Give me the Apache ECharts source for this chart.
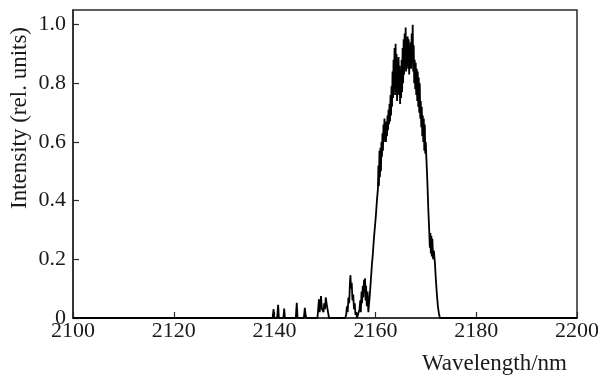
<!DOCTYPE html>
<html>
<head>
<meta charset="utf-8">
<script src="https://cdn.jsdelivr.net/npm/echarts@6/dist/echarts.min.js"></script>
<style>
  html, body { margin: 0; padding: 0; background: #fff; }
  #chart { width: 598px; height: 376px; }
</style>
</head>
<body>
<div id="chart"></div>
<script>
// x ticks (nm)
const xTicks = [2100, 2120, 2140, 2160, 2180, 2200];
const yTicks = [0, 0.2, 0.4, 0.6, 0.8, 1.0];

// spectrum (nm, rel. units)
const wavelength = [
  2100, 2139.6, 2139.7, 2139.8, 2139.9, 2140.5, 2140.7, 2140.85, 2141.75, 2141.9, 2142.05,
  2144.2, 2144.4, 2144.55, 2145.8, 2146.0, 2146.15, 2146.3,
  2148.5, 2148.65, 2148.8, 2148.95, 2149.2, 2149.4, 2149.7, 2149.85, 2150.0, 2150.15, 2150.4, 2150.6, 2150.8,
  2154.0, 2154.2, 2154.35, 2154.5, 2154.65, 2154.8, 2154.95, 2155.05, 2155.15, 2155.3, 2155.45, 2155.6, 2155.75, 2155.9, 2156.05, 2156.2, 2156.35,
  2156.7, 2156.85, 2157.0, 2157.1, 2157.25, 2157.35, 2157.5, 2157.6, 2157.75, 2157.85, 2157.95, 2158.05, 2158.15, 2158.3, 2158.45, 2158.6, 2158.75,
  2158.9, 2159.1, 2159.3, 2159.5, 2159.7, 2159.9, 2160.1, 2160.3, 2160.5, 2160.6, 2160.7, 2160.8, 2160.9,
  2161.0, 2161.1, 2161.2, 2161.3, 2161.4, 2161.5, 2161.6, 2161.7, 2161.8, 2161.9,
  2162.0, 2162.1, 2162.2, 2162.3, 2162.4, 2162.5, 2162.6, 2162.7, 2162.8, 2162.9,
  2163.0, 2163.1, 2163.2, 2163.3, 2163.4, 2163.5, 2163.6, 2163.7, 2163.8, 2163.9,
  2164.0, 2164.1, 2164.2, 2164.3, 2164.4, 2164.5, 2164.6, 2164.7, 2164.8, 2164.9,
  2165.0, 2165.1, 2165.2, 2165.3, 2165.4, 2165.5, 2165.6, 2165.7, 2165.8, 2165.9,
  2166.0, 2166.1, 2166.2, 2166.3, 2166.4, 2166.5, 2166.6, 2166.7, 2166.8, 2166.9,
  2167.0, 2167.1, 2167.2, 2167.3, 2167.4, 2167.5, 2167.6, 2167.7, 2167.8, 2167.9,
  2168.0, 2168.1, 2168.2, 2168.3, 2168.4, 2168.5, 2168.6, 2168.7, 2168.8, 2168.9,
  2169.0, 2169.1, 2169.2, 2169.3, 2169.4, 2169.5, 2169.6, 2169.7, 2169.8, 2169.9,
  2170.0, 2170.1, 2170.3, 2170.5, 2170.7, 2170.8, 2170.9, 2171.0, 2171.1, 2171.2, 2171.3, 2171.45, 2171.6, 2171.8,
  2172.0, 2172.2, 2172.4, 2172.6, 2172.8, 2200
];
const intensity = [
  0, 0, 0, 0.03, 0, 0, 0.045, 0, 0, 0.032, 0,
  0, 0.052, 0, 0, 0.035, 0.01, 0,
  0, 0.03, 0.064, 0.02, 0.075, 0.03, 0.02, 0.05, 0.03, 0.07, 0.04, 0.02, 0,
  0, 0.01, 0.04, 0.02, 0.07, 0.05, 0.12, 0.146, 0.10, 0.12, 0.06, 0.08, 0.03, 0.05, 0.01, 0.02, 0,
  0, 0.03, 0.06, 0.02, 0.09, 0.05, 0.11, 0.07, 0.13, 0.09, 0.135, 0.06, 0.11, 0.04, 0.09, 0.02, 0.05,
  0.08, 0.13, 0.18, 0.22, 0.27, 0.31, 0.35, 0.40, 0.44, 0.52, 0.45, 0.57, 0.48,
  0.58, 0.50, 0.60, 0.55, 0.63, 0.57, 0.66, 0.60, 0.68, 0.62,
  0.64, 0.60, 0.67, 0.62, 0.69, 0.64, 0.71, 0.66, 0.73, 0.67,
  0.76, 0.69, 0.79, 0.72, 0.84, 0.75, 0.88, 0.78, 0.92, 0.76,
  0.935, 0.80, 0.90, 0.74, 0.88, 0.77, 0.89, 0.76, 0.86, 0.73,
  0.84, 0.75, 0.88, 0.77, 0.92, 0.80, 0.95, 0.83, 0.97, 0.85,
  0.99, 0.84, 0.94, 0.86, 0.96, 0.85, 0.95, 0.83, 0.90, 0.86,
  0.94, 0.85, 0.97, 0.88, 1.0, 0.84, 0.93, 0.80, 0.88, 0.78,
  0.87, 0.76, 0.85, 0.74, 0.84, 0.72, 0.82, 0.70, 0.80, 0.68,
  0.74, 0.65, 0.72, 0.62, 0.69, 0.60, 0.68, 0.57, 0.66, 0.56,
  0.60, 0.55, 0.47, 0.37, 0.29, 0.24, 0.29, 0.22, 0.28, 0.21, 0.27, 0.20, 0.23, 0.19,
  0.13, 0.08, 0.04, 0.015, 0, 0
];

const serif = '"Liberation Serif", "DejaVu Serif", serif';
const chart = echarts.init(document.getElementById('chart'));

chart.setOption({
  animation: false,
  backgroundColor: '#fff',
  grid: {
    left: 73, right: 21, top: 10, bottom: 58,
    outerBoundsMode: 'none',
    show: true, borderColor: '#2a2a2a', borderWidth: 1.5
  },
  xAxis: {
    type: 'value',
    min: xTicks[0],
    max: xTicks[xTicks.length - 1],
    interval: 20,
    axisLine: { lineStyle: { color: '#2a2a2a', width: 1.5 } },
    axisTick: { inside: true, length: 6, lineStyle: { color: '#2a2a2a', width: 1.2 } },
    axisLabel: {
      color: '#1a1a1a', fontFamily: serif, fontSize: 22, margin: 2,
      formatter: v => String(v)
    },
    splitLine: { show: false }
  },
  yAxis: {
    type: 'value',
    min: 0,
    max: 1.05,
    interval: 0.2,
    axisLine: { show: true, lineStyle: { color: '#2a2a2a', width: 1.5 } },
    axisTick: { show: true, inside: true, length: 6, lineStyle: { color: '#2a2a2a', width: 1.2 } },
    axisLabel: {
      color: '#1a1a1a', fontFamily: serif, fontSize: 22, margin: 7,
      showMaxLabel: false,
      formatter: v => {
        const hit = yTicks.find(t => Math.abs(t - v) < 1e-6);
        if (hit === undefined) return '';
        return hit === 0 ? '0' : hit.toFixed(1);
      }
    },
    splitLine: { show: false }
  },
  graphic: [
    {
      type: 'text', x: 20, y: 118, rotation: Math.PI / 2,
      style: {
        text: 'Intensity (rel. units)', fill: '#1a1a1a',
        font: '23px ' + serif, align: 'center', verticalAlign: 'middle'
      }
    },
    {
      type: 'text', x: 567, y: 364,
      style: {
        text: 'Wavelength/nm', fill: '#1a1a1a',
        font: '23px ' + serif, align: 'right', verticalAlign: 'middle'
      }
    }
  ],
  series: [{
    type: 'line',
    data: wavelength.map((w, i) => [w, intensity[i]]),
    showSymbol: false,
    lineStyle: { color: '#000', width: 1.8 },
    z: 3
  }]
});
</script>
</body>
</html>
